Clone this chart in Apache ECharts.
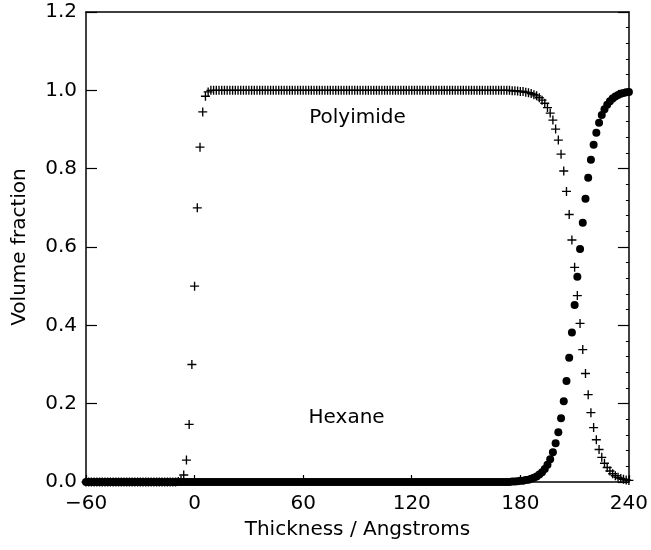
<!DOCTYPE html>
<html>
<head>
<meta charset="utf-8">
<script src="https://cdn.jsdelivr.net/npm/echarts@6/dist/echarts.min.js"></script>
<style>
html,body{margin:0;padding:0;background:#fff;}
#chart{width:651px;height:550px;}
</style>
</head>
<body>
<div id="chart"></div>
<script>
// Thickness positions (Angstroms)
const thickness = [
-60,-58.5,-57,-55.5,-54,-52.5,-51,-49.5,-48,-46.5,
-45,-43.5,-42,-40.5,-39,-37.5,-36,-34.5,-33,-31.5,
-30,-28.5,-27,-25.5,-24,-22.5,-21,-19.5,-18,-16.5,
-15,-13.5,-12,-10.5,-9,-7.5,-6,-4.5,-3,-1.5,
0,1.5,3,4.5,6,7.5,9,10.5,12,13.5,
15,16.5,18,19.5,21,22.5,24,25.5,27,28.5,
30,31.5,33,34.5,36,37.5,39,40.5,42,43.5,
45,46.5,48,49.5,51,52.5,54,55.5,57,58.5,
60,61.5,63,64.5,66,67.5,69,70.5,72,73.5,
75,76.5,78,79.5,81,82.5,84,85.5,87,88.5,
90,91.5,93,94.5,96,97.5,99,100.5,102,103.5,
105,106.5,108,109.5,111,112.5,114,115.5,117,118.5,
120,121.5,123,124.5,126,127.5,129,130.5,132,133.5,
135,136.5,138,139.5,141,142.5,144,145.5,147,148.5,
150,151.5,153,154.5,156,157.5,159,160.5,162,163.5,
165,166.5,168,169.5,171,172.5,174,175.5,177,178.5,
180,181.5,183,184.5,186,187.5,189,190.5,192,193.5,
195,196.5,198,199.5,201,202.5,204,205.5,207,208.5,
210,211.5,213,214.5,216,217.5,219,220.5,222,223.5,
225,226.5,228,229.5,231,232.5,234,235.5,237,238.5,
240
];

// Polyimide volume fraction (+ markers)
const polyimide = [
0,0,0,0,0,0,0,0,0,0,
0,0,0,0,0,0,0,0,0,0,
0,0,0,0,0,0,0,0,0,0,
0,0,0,0,0.001,0.005,0.018,0.056,0.147,0.30,
0.50,0.70,0.855,0.945,0.985,0.996,1,1,1,1,
1,1,1,1,1,1,1,1,1,1,
1,1,1,1,1,1,1,1,1,1,
1,1,1,1,1,1,1,1,1,1,
1,1,1,1,1,1,1,1,1,1,
1,1,1,1,1,1,1,1,1,1,
1,1,1,1,1,1,1,1,1,1,
1,1,1,1,1,1,1,1,1,1,
1,1,1,1,1,1,1,1,1,1,
1,1,1,1,1,1,1,1,1,1,
1,1,1,1,1,1,1,1,1,1,
1,1,1,1,1,1,1,0.999,0.999,0.998,
0.997,0.997,0.995,0.994,0.992,0.989,0.986,0.981,0.975,0.967,
0.956,0.942,0.924,0.901,0.873,0.837,0.794,0.742,0.683,0.618,
0.548,0.476,0.405,0.338,0.277,0.223,0.177,0.139,0.108,0.083,
0.063,0.048,0.037,0.028,0.021,0.016,0.012,0.009,0.007,0.005,
0.004
];

// Hexane volume fraction (filled circles)
const hexane = [
0,0,0,0,0,0,0,0,0,0,
0,0,0,0,0,0,0,0,0,0,
0,0,0,0,0,0,0,0,0,0,
0,0,0,0,0,0,0,0,0,0,
0,0,0,0,0,0,0,0,0,0,
0,0,0,0,0,0,0,0,0,0,
0,0,0,0,0,0,0,0,0,0,
0,0,0,0,0,0,0,0,0,0,
0,0,0,0,0,0,0,0,0,0,
0,0,0,0,0,0,0,0,0,0,
0,0,0,0,0,0,0,0,0,0,
0,0,0,0,0,0,0,0,0,0,
0,0,0,0,0,0,0,0,0,0,
0,0,0,0,0,0,0,0,0,0,
0,0,0,0,0,0,0,0,0,0,
0,0,0,0,0,0,0,0.001,0.001,0.002,
0.003,0.003,0.005,0.006,0.008,0.011,0.014,0.019,0.025,0.033,
0.044,0.058,0.076,0.099,0.127,0.163,0.206,0.258,0.317,0.382,
0.452,0.524,0.595,0.662,0.723,0.777,0.823,0.861,0.892,0.917,
0.937,0.952,0.963,0.972,0.979,0.984,0.988,0.991,0.993,0.995,
0.996
];

const xTicks = [-60, 0, 60, 120, 180, 240];
const yTicks = [0, 0.2, 0.4, 0.6, 0.8, 1.0, 1.2];
const seriesNames = ['Polyimide', 'Hexane'];
const labelPositions = [[90, 0.93], [84, 0.163]];

const FONT = '"DejaVu Sans", sans-serif';
const plusPath = 'path://M0,4.25H10V5.75H0Z M4.25,0H5.75V10H4.25Z';

const polyData = thickness.map((x, i) => [x, polyimide[i]]);
const hexData = thickness.map((x, i) => [x, hexane[i]]);

const chart = echarts.init(document.getElementById('chart'), null, {renderer: 'canvas'});
const axisLineStyle = {color: '#000', width: 1.5};

chart.setOption({
  animation: false,
  backgroundColor: '#fff',
  grid: {left: 86, right: 22, top: 12, bottom: 68, containLabel: false},
  xAxis: [
    {
      type: 'value', position: 'bottom',
      min: xTicks[0], max: xTicks[xTicks.length - 1], interval: 60,
      name: 'Thickness / Angstroms', nameLocation: 'middle', nameGap: 38,
      nameTextStyle: {fontFamily: FONT, fontSize: 20, color: '#000'},
      axisLine: {show: true, onZero: false, lineStyle: axisLineStyle},
      axisTick: {show: true, inside: true, length: 7, lineStyle: {color: '#000', width: 1.2}},
      axisLabel: {
        margin: 12, fontFamily: FONT, fontSize: 20, color: '#000',
        formatter: v => (v < 0 ? '\u2212' + Math.abs(v) : String(v))
      },
      splitLine: {show: false}
    },
    {
      type: 'value', position: 'top',
      min: xTicks[0], max: xTicks[xTicks.length - 1], interval: 60,
      axisLine: {show: true, onZero: false, lineStyle: axisLineStyle},
      axisTick: {show: false}, axisLabel: {show: false}, splitLine: {show: false}
    }
  ],
  yAxis: [
    {
      type: 'value', position: 'left',
      min: yTicks[0], max: yTicks[yTicks.length - 1], interval: 0.2,
      name: 'Volume fraction', nameLocation: 'middle', nameGap: 56, nameRotate: 90,
      nameTextStyle: {fontFamily: FONT, fontSize: 20, color: '#000'},
      axisLine: {show: true, onZero: false, lineStyle: axisLineStyle},
      axisTick: {show: true, inside: true, length: 11, lineStyle: {color: '#000', width: 1.2}},
      axisLabel: {
        margin: 9, fontFamily: FONT, fontSize: 20, color: '#000',
        formatter: v => v.toFixed(1)
      },
      splitLine: {show: false}
    },
    {
      type: 'value', position: 'right',
      min: yTicks[0], max: yTicks[yTicks.length - 1], interval: 0.2,
      axisLine: {show: true, onZero: false, lineStyle: axisLineStyle},
      axisTick: {show: true, inside: true, length: 11, lineStyle: {color: '#000', width: 1.2}},
      minorTick: {show: true, splitNumber: 5, length: 3, lineStyle: {color: '#000', width: 1}},
      axisLabel: {show: false}, splitLine: {show: false}
    }
  ],
  series: [
    {
      name: seriesNames[0], type: 'scatter', xAxisIndex: 0, yAxisIndex: 0,
      symbol: plusPath, symbolSize: 9,
      itemStyle: {color: '#000', opacity: 1},
      data: polyData, z: 3
    },
    {
      name: seriesNames[1], type: 'scatter', xAxisIndex: 0, yAxisIndex: 0,
      symbol: 'circle', symbolSize: 8,
      itemStyle: {color: '#000', opacity: 1},
      data: hexData, z: 4
    }
  ]
});

// Text annotations placed in data coordinates
const graphics = seriesNames.map((name, i) => {
  const p = chart.convertToPixel({xAxisIndex: 0, yAxisIndex: 0}, labelPositions[i]);
  return {
    type: 'text', x: p[0], y: p[1], z: 10,
    style: {text: name, fontFamily: FONT, fontSize: 20, fill: '#000', align: 'center', verticalAlign: 'middle'}
  };
});
chart.setOption({graphic: graphics});
</script>
</body>
</html>
